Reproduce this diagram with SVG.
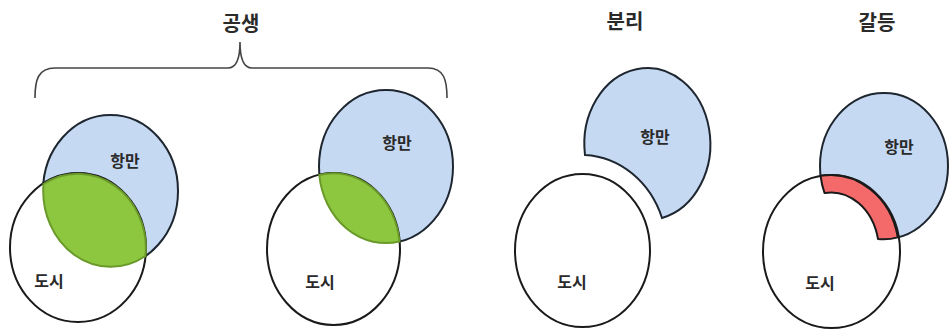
<svg xmlns="http://www.w3.org/2000/svg" width="950" height="330" viewBox="0 0 950 330">
<style>
text{font-family:"Noto Sans CJK KR","Noto Sans",sans-serif;font-weight:bold;fill:#2a2a2a;text-anchor:middle}
.t{font-size:20px}
.l{font-size:16px}
.port{fill:#c6d9f3;stroke:#1e2630;stroke-width:2}
.city{fill:#ffffff;stroke:#1a1a1a;stroke-width:2}
.lens{fill:#8dc63f;stroke:#6a9a2a;stroke-width:2}
.band{fill:#f46a6a;stroke:#1a1a1a;stroke-width:2;stroke-linejoin:round}
.brace{fill:none;stroke:#444;stroke-width:1.6}
</style>
<rect width="950" height="330" fill="#ffffff"/>
<g id="titles">
<text class="t" x="241" y="31">공생</text>
<text class="t" x="625" y="29">분리</text>
<text class="t" x="877" y="30">갈등</text>
</g>
<g id="connectors">
<path class="brace" d="M35 98 C35 80 38 68 55 68 L228 68 C236 68 240 60 240 42 C240 60 244 68 252 68 L428 68 C444 68 447 80 447 98"/>
</g>
<g id="symbiosis1">
<ellipse class="port" cx="110.5" cy="191" rx="67.5" ry="76"/>
<ellipse class="city" cx="78" cy="247.5" rx="68" ry="74.5"/>
<path class="lens" d="M43.5 184 A68 74.5 0 0 1 145.5 256 A67.5 76 0 0 1 43.5 184 Z"/>
<text class="l" x="125" y="167">항만</text>
<text class="l" x="49" y="287">도시</text>
</g>
<g id="symbiosis2">
<ellipse class="port" cx="386" cy="166.5" rx="67" ry="76.5"/>
<ellipse class="city" cx="333.5" cy="249" rx="66.5" ry="76"/>
<path class="lens" d="M319.3 175 A66.5 76 0 0 1 399.5 241.5 A67 76.5 0 0 1 319.3 175 Z"/>
<text class="l" x="397" y="149">항만</text>
<text class="l" x="320" y="288">도시</text>
</g>
<g id="separation">
<path class="port" d="M585 155 A63 76 0 1 1 662 218 A86 95 0 0 0 585 155 Z"/>
<ellipse class="city" cx="582.5" cy="250.5" rx="67.5" ry="76.5"/>
<text class="l" x="655" y="143">항만</text>
<text class="l" x="572" y="288">도시</text>
</g>
<g id="conflict">
<ellipse class="port" cx="884" cy="166" rx="64" ry="73"/>
<ellipse class="city" cx="831.5" cy="251.5" rx="68.5" ry="76.5"/>
<path class="band" d="M820.6 175.8 A68.5 76.5 0 0 1 897.8 237.4 A64 73 0 0 1 878 239 A48 59 0 0 0 824.5 193 A64 73 0 0 1 820.6 175.8 Z"/>
<text class="l" x="899" y="153">항만</text>
<text class="l" x="820" y="289">도시</text>
</g>
</svg>
